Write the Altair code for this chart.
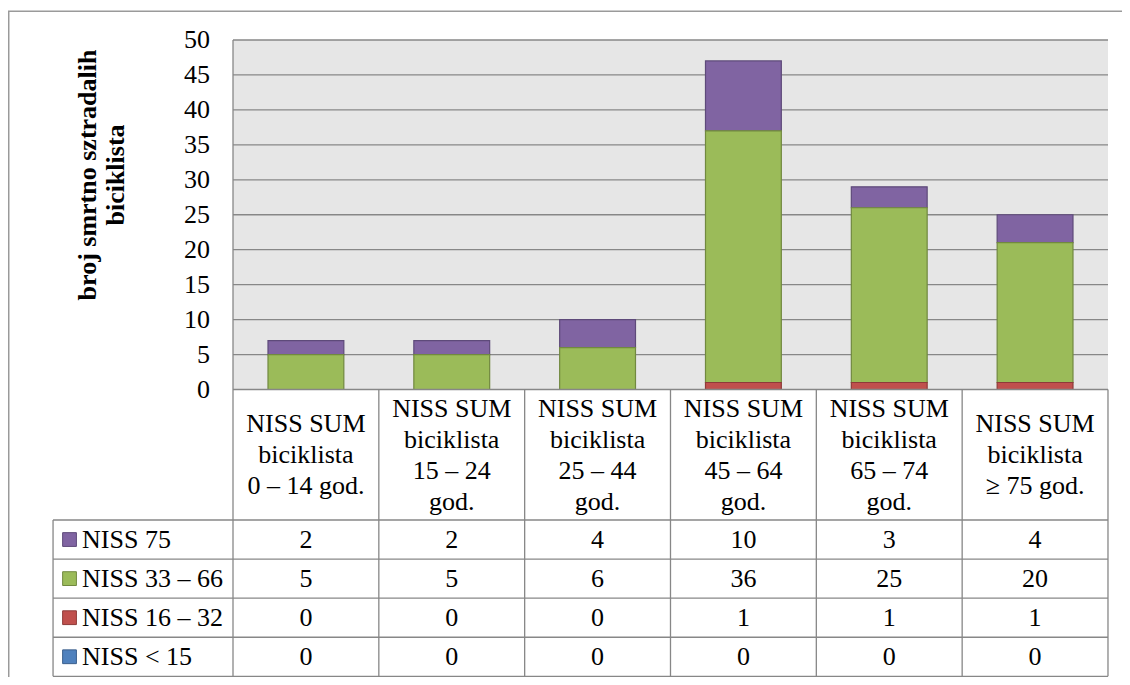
import altair as alt
import pandas as pd

# ---------------- data ----------------
categories = [
    "NISS SUM\nbiciklista\n0 – 14 god.",
    "NISS SUM\nbiciklista\n15 – 24\ngod.",
    "NISS SUM\nbiciklista\n25 – 44\ngod.",
    "NISS SUM\nbiciklista\n45 – 64\ngod.",
    "NISS SUM\nbiciklista\n65 – 74\ngod.",
    "NISS SUM\nbiciklista\n≥ 75  god.",
]
series = ["NISS 75", "NISS 33 – 66", "NISS 16 – 32", "NISS < 15"]
niss_75 = [2, 2, 4, 10, 3, 4]
niss_33_66 = [5, 5, 6, 36, 25, 20]
niss_16_32 = [0, 0, 0, 1, 1, 1]
niss_lt_15 = [0, 0, 0, 0, 0, 0]
y_ticks = [0, 5, 10, 15, 20, 25, 30, 35, 40, 45, 50]
y_title = "broj smrtno sztradalih\nbiciklista"

# ---------------- styles / layout ----------------
fill_colors = ["#8064A2", "#9BBB59", "#C0504D", "#4F81BD"]
stroke_colors = ["#5E4A7A", "#71893F", "#8E3B39", "#3A5F8C"]
LINE = "#878787"
FRAME = "#9a9a9a"
BG = "#e6e6e6"
FONT = "Liberation Serif"
FS = 26

N = len(categories)
YMAX = max(y_ticks)
PX_X = 145.83          # pixels per category
PX_Y = 6.99            # pixels per value unit
X_DOMAIN = [-1.5429, 6.0961]
Y_DOMAIN = [-41.13, 54.149]
HDR_CENTER = -9.44
HDR_BOTTOM = -18.67
ROW_H = 5.59
LEG_LEFT = -1.234
SQ_X = -1.121
LEG_TXT_X = -1.035
BAR_HALF = 0.26
TICK_X = -0.158
TITLE_X = -0.994
TITLE_Y = 30.69
HDR_LH = 31
TITLE_LH = 28

xs = alt.Scale(domain=X_DOMAIN, nice=False, zero=False)
ys = alt.Scale(domain=Y_DOMAIN, nice=False, zero=False)

values = [niss_75, niss_33_66, niss_16_32, niss_lt_15]
rows = []
for r, (s, vals) in enumerate(zip(series, values)):
    for ci, v in enumerate(vals):
        rows.append({"series": s, "r": r, "so": len(series) - 1 - r, "ci": ci, "value": v})
long_df = pd.DataFrame(rows)
cat_df = pd.DataFrame({"ci": list(range(N)), "label": categories})
ser_df = pd.DataFrame({"series": series, "r": list(range(len(series)))})

color_scale = alt.Scale(domain=series, range=fill_colors)
stroke_scale = alt.Scale(domain=series, range=stroke_colors)


def X(f):
    return alt.X(f, scale=xs, axis=None)


def Y(f):
    return alt.Y(f, scale=ys, axis=None)


# outer frame (top and left)
frame_h = alt.Chart(pd.DataFrame({"a": [X_DOMAIN[0]], "b": [X_DOMAIN[1]], "y": [Y_DOMAIN[1] - 0.05]})).mark_rule(
    color=FRAME, strokeWidth=1.5
).encode(x=X("a:Q"), x2="b:Q", y=Y("y:Q"))
frame_v = alt.Chart(pd.DataFrame({"x": [X_DOMAIN[0] + 0.005], "a": [Y_DOMAIN[0]], "b": [Y_DOMAIN[1]]})).mark_rule(
    color=FRAME, strokeWidth=1.5
).encode(x=X("x:Q"), y=Y("a:Q"), y2="b:Q")

# plot area background
bg = alt.Chart(pd.DataFrame({"a": [0], "b": [N], "c": [0], "d": [YMAX]})).mark_rect(color=BG).encode(
    x=X("a:Q"), x2="b:Q", y=Y("c:Q"), y2="d:Q"
)

# gridlines
grid = alt.Chart(pd.DataFrame({"t": y_ticks[1:]})).transform_calculate(a="0", b=str(N)).mark_rule(
    color=LINE, strokeWidth=1.3
).encode(x=X("a:Q"), x2="b:Q", y=Y("t:Q"))

# y tick labels
tick_labels = alt.Chart(pd.DataFrame({"t": y_ticks})).transform_calculate(xc=str(TICK_X)).mark_text(
    font=FONT, fontSize=FS, align="right", baseline="middle", color="#000000"
).encode(x=X("xc:Q"), y=Y("t:Q"), text="t:Q")

# y title
title = alt.Chart(pd.DataFrame({"label": [y_title]})).transform_calculate(
    xc=str(TITLE_X), yc=str(TITLE_Y)
).mark_text(
    font=FONT, fontSize=FS, fontWeight="bold", angle=270, lineBreak="\n", lineHeight=TITLE_LH,
    align="center", baseline="middle", color="#000000"
).encode(x=X("xc:Q"), y=Y("yc:Q"), text="label:N")

# stacked bars
bars = alt.Chart(long_df).transform_stack(
    stack="value", groupby=["ci"], as_=["y0", "y1"], sort=[alt.SortField("so", order="ascending")]
).transform_filter("datum.value > 0").transform_calculate(
    xl=f"datum.ci + 0.5 - {BAR_HALF}", xr=f"datum.ci + 0.5 + {BAR_HALF}"
).mark_bar(strokeWidth=1.2).encode(
    x=X("xl:Q"),
    x2="xr:Q",
    y=Y("y0:Q"),
    y2="y1:Q",
    color=alt.Color("series:N", scale=color_scale, legend=None),
    stroke=alt.Stroke("series:N", scale=stroke_scale, legend=None),
)

table_bottom = HDR_BOTTOM - len(series) * ROW_H

# table horizontal lines
h_lines = [{"a": 0, "b": N, "y": 0}] + [
    {"a": LEG_LEFT, "b": N, "y": HDR_BOTTOM - k * ROW_H} for k in range(len(series) + 1)
]
hrule = alt.Chart(pd.DataFrame(h_lines)).mark_rule(color=LINE, strokeWidth=1.3).encode(
    x=X("a:Q"), x2="b:Q", y=Y("y:Q")
)

# table vertical lines
v_lines = [{"x": 0, "y": YMAX, "y2": table_bottom}] + [
    {"x": k, "y": 0, "y2": table_bottom} for k in range(1, N + 1)
] + [{"x": LEG_LEFT, "y": HDR_BOTTOM, "y2": table_bottom}]
vrule = alt.Chart(pd.DataFrame(v_lines)).mark_rule(color=LINE, strokeWidth=1.3).encode(
    x=X("x:Q"), y=Y("y:Q"), y2="y2:Q"
)

# header (category labels), block vertically centred in the header cell
header = alt.Chart(cat_df).transform_calculate(
    n="length(split(datum.label, '\\n'))",
).transform_calculate(
    xc="datum.ci + 0.5",
    yc=f"{HDR_CENTER} + (datum.n - 1) / 2 * {HDR_LH / PX_Y}",
).mark_text(
    font=FONT, fontSize=FS, lineBreak="\n", lineHeight=HDR_LH, align="center", baseline="middle", color="#000000"
).encode(x=X("xc:Q"), y=Y("yc:Q"), text="label:N")

# table values
vals_text = alt.Chart(long_df).transform_calculate(
    xc="datum.ci + 0.5", yc=f"{HDR_BOTTOM} - (datum.r + 0.5) * {ROW_H}"
).mark_text(font=FONT, fontSize=FS, align="center", baseline="middle", color="#000000").encode(
    x=X("xc:Q"), y=Y("yc:Q"), text="value:Q"
)

# legend keys in table
keys = alt.Chart(ser_df).transform_calculate(
    xc=str(SQ_X), yc=f"{HDR_BOTTOM} - (datum.r + 0.5) * {ROW_H}"
).mark_square(size=190, opacity=1, strokeWidth=1).encode(
    x=X("xc:Q"),
    y=Y("yc:Q"),
    color=alt.Color("series:N", scale=color_scale, legend=None),
    stroke=alt.Stroke("series:N", scale=stroke_scale, legend=None),
)
key_text = alt.Chart(ser_df).transform_calculate(
    xc=str(LEG_TXT_X), yc=f"{HDR_BOTTOM} - (datum.r + 0.5) * {ROW_H}"
).mark_text(font=FONT, fontSize=FS, align="left", baseline="middle", color="#000000").encode(
    x=X("xc:Q"), y=Y("yc:Q"), text="series:N"
)

chart = alt.layer(
    frame_h, frame_v, bg, grid, bars, hrule, vrule, tick_labels, title, header, vals_text, keys, key_text
).properties(
    width=1114,
    height=666,
    autosize=alt.AutoSizeParams(type="none"),
    padding={"left": 0, "top": 3, "right": 0, "bottom": 0},
).configure_view(stroke=None).configure(background="white")

chart.save("out.html", embed_options={"renderer": "svg", "actions": False})
